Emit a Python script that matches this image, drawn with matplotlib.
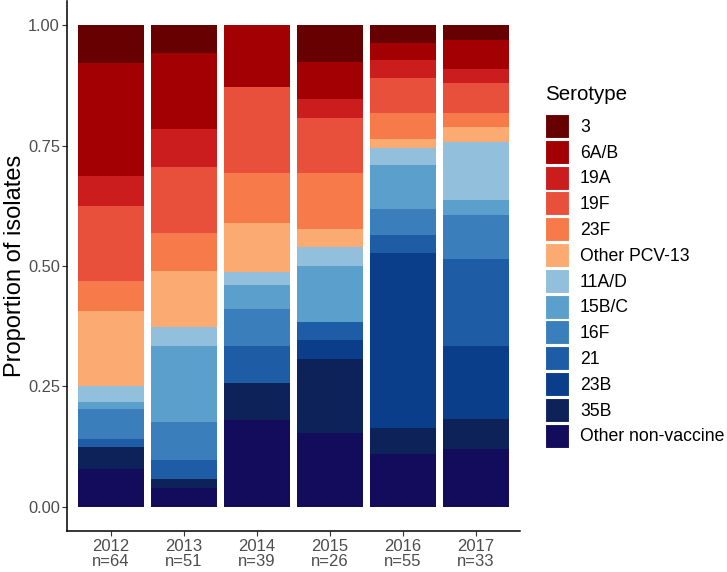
import numpy as np
import matplotlib
matplotlib.use("Agg")
from matplotlib import pyplot as plt
from matplotlib.patches import Patch

plt.rcParams["font.family"] = ["Liberation Sans", "DejaVu Sans"]

years = ["2012", "2013", "2014", "2015", "2016", "2017"]
n_isolates = [64, 51, 39, 26, 55, 33]

# serotypes listed bottom of the stack first
serotypes = ["Other non-vaccine", "35B", "23B", "21", "16F", "15B/C", "11A/D",
             "Other PCV-13", "23F", "19F", "19A", "6A/B", "3"]

# isolate counts per serotype, one value per year
counts = {
    "Other non-vaccine": [5, 2, 7, 4, 6, 4],
    "35B": [3, 1, 3, 4, 3, 2],
    "23B": [0, 0, 0, 1, 20, 5],
    "21": [1, 2, 3, 1, 2, 6],
    "16F": [4, 4, 3, 0, 3, 3],
    "15B/C": [1, 8, 2, 3, 5, 1],
    "11A/D": [2, 2, 1, 1, 2, 4],
    "Other PCV-13": [10, 6, 4, 1, 1, 1],
    "23F": [4, 4, 4, 3, 3, 1],
    "19F": [10, 7, 7, 3, 4, 2],
    "19A": [4, 4, 0, 1, 2, 1],
    "6A/B": [15, 8, 5, 2, 2, 2],
    "3": [5, 3, 0, 2, 2, 1],
}

colours = {
    "3": "#670000",
    "6A/B": "#a30003",
    "19A": "#cb1c1e",
    "19F": "#e9503b",
    "23F": "#f77b4a",
    "Other PCV-13": "#fbab72",
    "11A/D": "#92bfdc",
    "15B/C": "#5ba0cc",
    "16F": "#3a7fbb",
    "21": "#1f5ca6",
    "23B": "#0b3e8a",
    "35B": "#0c2259",
    "Other non-vaccine": "#130c5d",
}

W, H = 727, 572
fig = plt.figure(figsize=(W / 100, H / 100), dpi=100)
ax = fig.add_axes([67 / W, 41 / H, 453 / W, 530 / H])

x = np.arange(1, len(years) + 1)
n = np.asarray(n_isolates, dtype=float)
bottom = np.zeros(len(years))
for s in serotypes:
    prop = np.asarray(counts[s]) / n
    ax.bar(x, prop, width=0.9, bottom=bottom, color=colours[s], linewidth=0)
    bottom += prop

ax.set_xlim(0.4, 6.6)
ax.set_ylim(-0.05, 1.05)
ax.set_yticks([0, 0.25, 0.5, 0.75, 1.0])
ax.set_yticklabels(["0.00", "0.25", "0.50", "0.75", "1.00"])
ax.set_xticks(x)
ax.set_xticklabels([f"{y}\nn={k}" for y, k in zip(years, n_isolates)],
                   linespacing=0.92)
ax.tick_params(colors="#333333", labelcolor="#4d4d4d", length=3.6, width=0.8)
ax.tick_params(axis="y", labelsize=11.8, pad=1.5)
ax.tick_params(axis="x", labelsize=12, pad=2.5)
ax.set_ylabel("Proportion of isolates", fontsize=17)
ax.yaxis.set_label_coords(-0.09, 0.5)
for side in ["top", "right"]:
    ax.spines[side].set_visible(False)
ax.spines["left"].set_linewidth(1.1)
ax.spines["bottom"].set_linewidth(1.1)

# legend: title placed by hand, keys below it
fig.text(545 / W, 1 - 95 / H, "Serotype", fontsize=14.8, ha="left", va="center")
handles = [Patch(facecolor=colours[s], edgecolor="white", linewidth=0.8)
           for s in serotypes[::-1]]
fig.legend(handles, serotypes[::-1], loc="upper left",
           bbox_to_anchor=(545 / W, 1 - 114 / H), frameon=False,
           fontsize=12.7, handlelength=1.36, handleheight=1.72,
           labelspacing=0.1, handletextpad=0.62, borderaxespad=0,
           borderpad=0)

fig.savefig("out.png", dpi=100)
